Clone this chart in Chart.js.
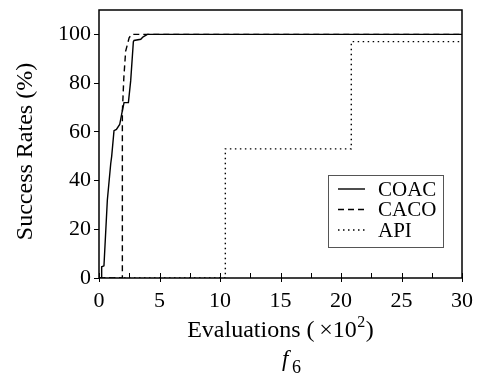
<!DOCTYPE html>
<html>
<head>
<meta charset="utf-8">
<script src="https://cdn.jsdelivr.net/npm/chart.js@4/dist/chart.umd.min.js"></script>
<style>
html,body{margin:0;padding:0;background:#fff;}
#wrap{width:483px;height:378px;position:relative;}
</style>
</head>
<body>
<div id="wrap"><canvas id="c" width="483" height="378"></canvas></div>
<script>
// Data (x = evaluations ×10^2, y = success rate %)
const seriesNames = ["COAC", "CACO", "API"];
const coacX = [0, 0.22, 0.22, 0.41, 0.69, 0.97, 1.05, 1.24, 1.44, 1.71, 1.93, 2.07, 2.43, 2.62, 2.84, 2.9, 3.45, 3.65, 4.0, 30];
const coacY = [0, 0, 4.6, 5, 32, 47, 50, 60.5, 61, 63, 68.7, 72, 72, 81, 97, 97.5, 98, 99, 100, 100];
const cacoX = [0, 1.93, 1.93, 2.05, 2.2, 2.49, 2.7, 30];
const cacoY = [0, 0, 68, 82, 93, 98.6, 100, 100];
const apiX = [0, 10.44, 10.44, 20.85, 20.85, 30];
const apiY = [0, 0, 53, 53, 97, 97];
const yTickLabels = [0, 20, 40, 60, 80, 100];
const xTickLabels = [0, 5, 10, 15, 20, 25, 30];
const xTitleParts = ["Evaluations (\u2009\u00d710", "2", ")"];
const yTitle = "Success Rates (%)";
const subTitleMain = "f";
const subTitleSub = "6";

const toPts = (xs, ys) => xs.map((x, i) => ({x: x, y: ys[i]}));
const FONT = "'Liberation Serif', 'DejaVu Serif', serif";

const dashes = [[], [6, 4], [1.5, 3.5]];
const datasets = [
  {label: seriesNames[0], data: toPts(coacX, coacY)},
  {label: seriesNames[1], data: toPts(cacoX, cacoY)},
  {label: seriesNames[2], data: toPts(apiX, apiY)}
].map((d, i) => Object.assign(d, {
  borderColor: '#000', borderWidth: 1.4, borderDash: dashes[i],
  pointRadius: 0, fill: false, tension: 0, showLine: true
}));

const framePlugin = {
  id: 'frame',
  afterDraw(chart) {
    const ctx = chart.ctx, a = chart.chartArea;
    const xs = chart.scales.x;
    ctx.save();
    ctx.strokeStyle = '#000';
    ctx.lineWidth = 1.5;
    ctx.strokeRect(a.left, a.top, a.right - a.left, a.bottom - a.top);
    // x-axis inward ticks
    ctx.lineWidth = 1;
    xs.ticks.forEach(t => {
      const px = Math.round(xs.getPixelForValue(t.value)) + 0.5;
      const major = xTickLabels.includes(t.value);
      ctx.beginPath();
      ctx.moveTo(px, a.bottom + (major ? 4 : 0));
      ctx.lineTo(px, a.bottom - 5);
      ctx.stroke();
    });
    // legend box
    const bx = 328, by = 175, bw = 115, bh = 72;
    ctx.lineWidth = 1;
    ctx.strokeStyle = '#555';
    ctx.fillStyle = '#fff';
    ctx.fillRect(bx, by, bw, bh);
    ctx.strokeRect(bx + 0.5, by + 0.5, bw, bh);
    ctx.font = "21px " + FONT;
    ctx.textBaseline = 'middle';
    chart.data.datasets.forEach((d, i) => {
      const yy = by + 14 + i * 20.5;
      ctx.strokeStyle = '#000';
      ctx.lineWidth = 1.4;
      ctx.setLineDash(d.borderDash);
      ctx.beginPath();
      ctx.moveTo(bx + 10, yy);
      ctx.lineTo(bx + 37, yy);
      ctx.stroke();
      ctx.setLineDash([]);
      ctx.fillStyle = '#000';
      ctx.textAlign = 'left';
      ctx.fillText(d.label, bx + 50, yy + 1);
    });
    ctx.fillStyle = '#000';
    // y-axis title (rotated)
    ctx.save();
    ctx.translate(26, 151.5);
    ctx.rotate(-Math.PI / 2);
    ctx.font = "24px " + FONT;
    ctx.textAlign = 'center';
    ctx.textBaseline = 'middle';
    ctx.fillText(yTitle, 0, 0);
    ctx.restore();
    // x-axis title with superscript
    const cx = (a.left + a.right) / 2;
    ctx.textBaseline = 'alphabetic';
    ctx.textAlign = 'left';
    const big = "24px " + FONT, small = "16px " + FONT;
    ctx.font = big; const w1 = ctx.measureText(xTitleParts[0]).width, w3 = ctx.measureText(xTitleParts[2]).width;
    ctx.font = small; const w2 = ctx.measureText(xTitleParts[1]).width;
    let x0 = cx - (w1 + w2 + w3 + 1) / 2;
    const base = 337;
    ctx.font = big; ctx.fillText(xTitleParts[0], x0, base);
    ctx.font = small; ctx.fillText(xTitleParts[1], x0 + w1 + 0.5, base - 10);
    ctx.font = big; ctx.fillText(xTitleParts[2], x0 + w1 + w2 + 1, base);
    // bottom sub-caption f_6
    ctx.font = "italic 23px " + FONT;
    ctx.fillText(subTitleMain, 282, 366);
    ctx.font = "18px " + FONT;
    ctx.fillText(subTitleSub, 292, 373);
    ctx.restore();
  }
};

new Chart(document.getElementById('c'), {
  type: 'scatter',
  data: {datasets: datasets},
  options: {
    responsive: false,
    animation: false,
    devicePixelRatio: 1,
    layout: {padding: {left: 55, right: 21, top: 10, bottom: 58}},
    plugins: {legend: {display: false}, tooltip: {enabled: false}},
    scales: {
      x: {
        type: 'linear', min: 0, max: 30,
        border: {display: false},
        grid: {display: false, drawTicks: false},
        afterFit: s => { s.height = 42; s.paddingLeft = 0; s.paddingRight = 0; },
        ticks: {
          stepSize: 2.5, color: '#000', padding: 10, maxRotation: 0,
          font: {family: FONT, size: 22},
          callback: v => xTickLabels.includes(v) ? String(v) : ''
        }
      },
      y: {
        type: 'linear', min: 0, max: 110,
        border: {display: false},
        grid: {drawOnChartArea: false, drawTicks: true, tickLength: 5, color: '#000', lineWidth: 1},
        afterBuildTicks: s => { s.ticks = s.ticks.filter(t => t.value <= 100); },
        afterFit: s => { s.width = 44; s.paddingTop = 0; s.paddingBottom = 0; },
        ticks: {
          stepSize: 10, color: '#000', padding: 3,
          font: {family: FONT, size: 22},
          callback: v => yTickLabels.includes(v) ? String(v) : ''
        }
      }
    }
  },
  plugins: [framePlugin]
});
</script>
</body>
</html>
